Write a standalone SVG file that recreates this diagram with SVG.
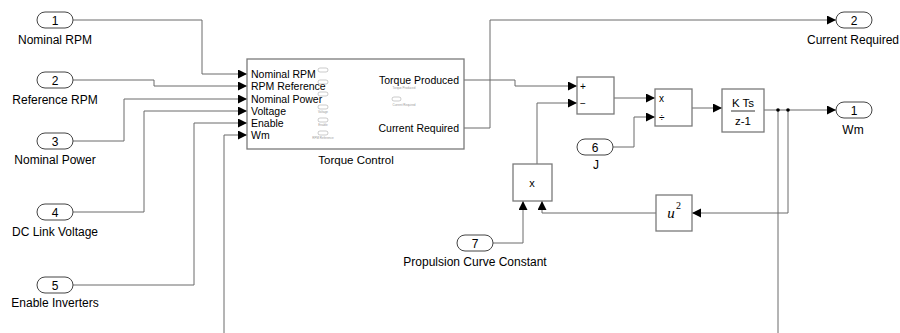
<svg xmlns="http://www.w3.org/2000/svg" width="900" height="333" viewBox="0 0 900 333">
<style>
text{font-family:"Liberation Sans",Arial,sans-serif;fill:#000}
.lbl{font-size:12px;text-anchor:middle}
.num{font-size:12px;text-anchor:middle}
.port{font-size:10.5px}
.tiny{font-size:3px;fill:#999}
.serif{font-family:"Liberation Serif","Times New Roman",serif}
.blk{fill:#fff;stroke:#7a7a7a;stroke-width:1.3}
.io{fill:#fff;stroke:#444;stroke-width:1}
.mini{fill:none;stroke:#aaa;stroke-width:0.6}
.ln{fill:none;stroke:#6a6a6a;stroke-width:1}
</style>
<defs>
<marker id="ar" markerWidth="10" markerHeight="10" refX="9" refY="4.5" orient="auto" markerUnits="userSpaceOnUse">
<path d="M0,0 L9,4.5 L0,9 z" fill="#000"/>
</marker>
</defs>

<g id="connectors">
<path class="ln" d="M73,20 H202 V74 H247" marker-end="url(#ar)"/>
<path class="ln" d="M73,80 H154 V86 H247" marker-end="url(#ar)"/>
<path class="ln" d="M73,141 H124 V99 H247" marker-end="url(#ar)"/>
<path class="ln" d="M73,212 H144 V111 H247" marker-end="url(#ar)"/>
<path class="ln" d="M73,285 H194 V123 H247" marker-end="url(#ar)"/>
<path class="ln" d="M224,333 V135 H247" marker-end="url(#ar)"/>
<path class="ln" d="M464,80 H515 V86 H577" marker-end="url(#ar)"/>
<path class="ln" d="M464,128 H490 V20 H836" marker-end="url(#ar)"/>
<path class="ln" d="M537,164 V103 H577" marker-end="url(#ar)"/>
<path class="ln" d="M614,98 H655" marker-end="url(#ar)"/>
<path class="ln" d="M613,147 H634 V117 H655" marker-end="url(#ar)"/>
<path class="ln" d="M692,108 H722" marker-end="url(#ar)"/>
<path class="ln" d="M764,110 H836" marker-end="url(#ar)"/>
<path class="ln" d="M778,110 V333"/>
<path class="ln" d="M788,110 V213 H692" marker-end="url(#ar)"/>
<path class="ln" d="M656,213 H542 V201" marker-end="url(#ar)"/>
<path class="ln" d="M493,243 H523 V201" marker-end="url(#ar)"/>
<circle cx="778" cy="110" r="1.8" fill="#000"/>
<circle cx="788" cy="110" r="1.8" fill="#000"/>
</g>

<g id="in1"><rect class="io" x="37" y="12" width="36" height="16" rx="8"/><text class="num" x="55" y="24.5">1</text><text class="lbl" x="55" y="44">Nominal RPM</text></g>
<g id="in2"><rect class="io" x="37" y="72" width="36" height="16" rx="8"/><text class="num" x="55" y="84.5">2</text><text class="lbl" x="55" y="104">Reference RPM</text></g>
<g id="in3"><rect class="io" x="37" y="133" width="36" height="16" rx="8"/><text class="num" x="55" y="145.5">3</text><text class="lbl" x="55" y="164">Nominal Power</text></g>
<g id="in4"><rect class="io" x="37" y="204" width="36" height="16" rx="8"/><text class="num" x="55" y="216.5">4</text><text class="lbl" x="55" y="236">DC Link Voltage</text></g>
<g id="in5"><rect class="io" x="37" y="277" width="36" height="16" rx="8"/><text class="num" x="55" y="289.5">5</text><text class="lbl" x="55" y="307">Enable Inverters</text></g>

<g id="torque_control">
<rect class="blk" x="247" y="59" width="217" height="90"/>
<text class="port" x="251" y="78">Nominal RPM</text>
<text class="port" x="251" y="90">RPM Reference</text>
<text class="port" x="251" y="103">Nominal Power</text>
<text class="port" x="251" y="115">Voltage</text>
<text class="port" x="251" y="127">Enable</text>
<text class="port" x="251" y="139">Wm</text>
<text class="port" x="459" y="84" text-anchor="end">Torque Produced</text>
<text class="port" x="459" y="132" text-anchor="end">Current Required</text>
<rect class="mini" x="318" y="68" width="10" height="4" rx="2"/>
<rect class="mini" x="318" y="80" width="10" height="4" rx="2"/>
<rect class="mini" x="318" y="92" width="10" height="4" rx="2"/>
<rect class="mini" x="318" y="105" width="10" height="4" rx="2"/>
<text class="tiny" x="323" y="113" text-anchor="middle">Voltage</text>
<rect class="mini" x="318" y="118" width="10" height="4" rx="2"/>
<text class="tiny" x="323" y="126" text-anchor="middle">Enable</text>
<rect class="mini" x="318" y="131" width="10" height="4" rx="2"/>
<text class="tiny" x="323" y="139" text-anchor="middle">RPM Reference</text>
<text class="tiny" x="404" y="89" text-anchor="middle">Torque Produced</text>
<rect class="mini" x="392" y="97" width="9" height="4" rx="2"/>
<text class="tiny" x="404" y="106" text-anchor="middle">Current Required</text>
<text x="356" y="164" font-size="11.5" text-anchor="middle">Torque Control</text>
</g>

<g id="sum"><rect class="blk" x="577" y="77" width="37" height="37"/><text x="580" y="90" font-size="10">+</text><text x="580" y="107" font-size="10">−</text></g>
<g id="divide"><rect class="blk" x="655" y="89" width="37" height="37"/><text x="659" y="102" font-size="10">x</text><text x="659" y="121" font-size="10">÷</text></g>
<g id="integrator"><rect class="blk" x="722" y="89" width="42" height="43"/><text x="743" y="107" font-size="11.5" text-anchor="middle">K Ts</text><line x1="731" y1="111" x2="755" y2="111" stroke="#000" stroke-width="0.8"/><text x="743" y="125" font-size="11.5" text-anchor="middle">z-1</text></g>
<g id="product"><rect class="blk" x="513" y="164" width="39" height="37"/><text x="532" y="187" font-size="11" text-anchor="middle">x</text></g>
<g id="square"><rect class="blk" x="656" y="195" width="36" height="36"/><text class="serif" x="671" y="218" font-size="15" font-style="italic" text-anchor="middle">u</text><text class="serif" x="676" y="209" font-size="10">2</text></g>

<g id="in6"><rect class="io" x="577" y="139" width="36" height="16" rx="8"/><text class="num" x="595" y="151.5">6</text><text class="lbl" x="596" y="169">J</text></g>
<g id="in7"><rect class="io" x="457" y="235" width="36" height="16" rx="8"/><text class="num" x="475" y="247.5">7</text><text class="lbl" x="475" y="266">Propulsion Curve Constant</text></g>
<g id="out1"><rect class="io" x="836" y="102" width="36" height="16" rx="8"/><text class="num" x="854" y="114.5">1</text><text class="lbl" x="853" y="134">Wm</text></g>
<g id="out2"><rect class="io" x="836" y="12" width="36" height="16" rx="8"/><text class="num" x="854" y="24.5">2</text><text class="lbl" x="853" y="44">Current Required</text></g>
</svg>
